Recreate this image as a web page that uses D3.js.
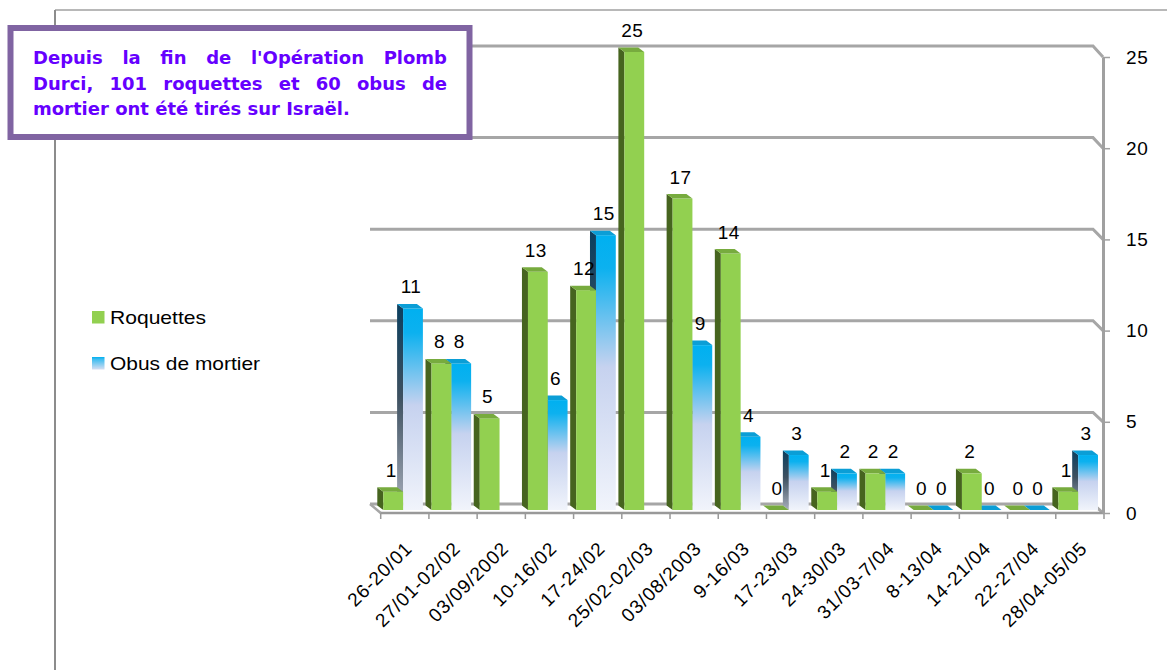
<html>
<head>
<script src="https://d3js.org/d3.v7.min.js"></script>
<style>
body { margin: 0; background: #fff; }
svg text { font-family: "Liberation Sans", Arial, sans-serif; fill: #000; }
.note text { font-family: "DejaVu Sans", Verdana, sans-serif; font-weight: bold; font-size: 18px; fill: #6600ff; }
</style>
</head>
<body>
<svg id="chart"></svg>
<script>
// chart data
var categories = ["26-20/01", "27/01-02/02", "03/09/2002", "10-16/02", "17-24/02", "25/02-02/03",
  "03/08/2003", "9-16/03", "17-23/03", "24-30/03", "31/03-7/04", "8-13/04", "14-21/04", "22-27/04", "28/04-05/05"];
var roquettes = [1, 8, 5, 13, 12, 25, 17, 14, 0, 1, 2, 0, 2, 0, 1];
var obus = [11, 8, null, 6, 15, null, 9, 4, 3, 2, 2, 0, 0, 0, 3];
var yTicks = [0, 5, 10, 15, 20, 25];
var seriesNames = ["Roquettes", "Obus de mortier"];
var noteLines = [
  ["Depuis", "la", "fin", "de", "l'Opération", "Plomb"],
  ["Durci,", "101", "roquettes", "et", "60", "obus", "de"],
  ["mortier", "ont", "été", "tirés", "sur", "Israël."]
];

var W = 1167, H = 670;
var svg = d3.select("#chart").attr("width", W).attr("height", H);
var defs = svg.append("defs");

function grad(id, stops) {
  var g = defs.append("linearGradient").attr("id", id)
    .attr("x1", 0).attr("y1", 0).attr("x2", 0).attr("y2", 1);
  stops.forEach(function(s) { g.append("stop").attr("offset", s[0]).attr("stop-color", s[1]); });
}
grad("blueFront", [[0, "#00b0f0"], [0.12, "#0cb1ef"], [0.48, "#c6d2ef"], [1, "#f1f4fb"]]);
grad("blueSide", [[0, "#0b3f5f"], [0.45, "#3d5060"], [1, "#a7aebb"]]);
grad("blueLegend", [[0, "#00b0f0"], [0.2, "#40bdf0"], [1, "#d6def2"]]);

// outer frame
svg.append("line").attr("x1", 55).attr("y1", 10).attr("x2", W).attr("y2", 10)
  .attr("stroke", "#a0a0a0").attr("stroke-width", 1.5);
svg.append("line").attr("x1", 55).attr("y1", 10).attr("x2", 55).attr("y2", H)
  .attr("stroke", "#8c8c8c").attr("stroke-width", 2);

// scales
var x = d3.scaleBand().domain(categories).range([380.7, 1104]).padding(0);
var y = d3.scaleLinear().domain([0, 25]).range([510, 52]);
var yA = d3.scaleLinear().domain([0, 25]).range([513, 57]);
var back = { dx: -6, dy: -4.5 };
var wallX0 = 370, wallX1 = 1093, axisX = 1103;

// back wall gridlines
svg.append("g").selectAll("path.grid").data(yTicks).enter().append("path")
  .attr("d", function(d) {
    var g = y(d) - 6;
    return "M" + wallX0 + "," + g + "H" + wallX1 + "L" + axisX + "," + yA(d);
  })
  .attr("fill", "none").attr("stroke", "#a6a6a6").attr("stroke-width", 3);

// floor left corner
svg.append("line").attr("x1", wallX0).attr("y1", y(0) - 6).attr("x2", x.range()[0]).attr("y2", yA(0))
  .attr("stroke", "#a6a6a6").attr("stroke-width", 2.5);

// bottom axis
var bounds = categories.map(function(c) { return x(c); }).concat([x.range()[1]]);
var xAxis = svg.append("g");
xAxis.append("line").attr("x1", x.range()[0]).attr("x2", x.range()[1])
  .attr("y1", yA(0)).attr("y2", yA(0)).attr("stroke", "#999").attr("stroke-width", 2.5);
xAxis.selectAll("line.tick").data(bounds).enter().append("line")
  .attr("x1", function(d) { return d; }).attr("x2", function(d) { return d; })
  .attr("y1", yA(0)).attr("y2", yA(0) + 6).attr("stroke", "#999").attr("stroke-width", 1.5);
xAxis.selectAll("text").data(categories).enter().append("text")
  .attr("transform", function(d) {
    return "translate(" + (x(d) + x.bandwidth() / 2 + 4) + "," + 545 + ") rotate(-45)";
  })
  .attr("text-anchor", "end").attr("dominant-baseline", "central")
  .style("font-size", "19px").style("letter-spacing", "0.9px")
  .text(function(d) { return d; });

// right axis
var rAxis = svg.append("g").attr("transform", "translate(" + axisX + ",0)")
  .call(d3.axisRight(yA).tickValues(yTicks).tickSize(7).tickSizeOuter(0).tickPadding(16));
rAxis.select(".domain").attr("stroke", "#a0a0a0").attr("stroke-width", 3);
rAxis.selectAll(".tick line").attr("stroke", "#a0a0a0").attr("stroke-width", 1.5);
rAxis.selectAll(".tick text").style("font-size", "19px").style("letter-spacing", "0.6px")
  .style("font-family", "'Liberation Sans', Arial, sans-serif").attr("fill", "#000");

// 3D bars
var bars = [];
categories.forEach(function(c, i) {
  if (obus[i] !== null) bars.push({ cat: c, v: obus[i], s: 1 });
  if (roquettes[i] !== null) bars.push({ cat: c, v: roquettes[i], s: 0 });
});
var bw = 19.8;
function fx(d) { return x(d.cat) + 2.6 + d.s * bw; }
var colors = [
  { front: "#92d050", side: "#46641f", top: "#77ab3e" },
  { front: "url(#blueFront)", side: "url(#blueSide)", top: "#0b9ed6" }
];

var barG = svg.append("g").selectAll("g.bar").data(bars).enter().append("g").attr("class", "bar");
barG.append("path")
  .attr("d", function(d) {
    var l = fx(d), t = y(d.v), b = y(0);
    return "M" + l + "," + t + "V" + b + "L" + (l + back.dx) + "," + (b + back.dy) +
      "V" + (t + back.dy) + "Z";
  })
  .attr("fill", function(d) { return colors[d.s].side; });
barG.append("rect")
  .attr("x", fx).attr("y", function(d) { return y(d.v); })
  .attr("width", bw).attr("height", function(d) { return y(0) - y(d.v); })
  .attr("fill", function(d) { return colors[d.s].front; });
barG.append("path")
  .attr("d", function(d) {
    var l = fx(d), t = y(d.v);
    return "M" + l + "," + t + "H" + (l + bw) + "L" + (l + bw + back.dx) + "," + (t + back.dy) +
      "H" + (l + back.dx) + "Z";
  })
  .attr("fill", function(d) { return colors[d.s].top; });

// value labels
svg.append("g").selectAll("text").data(bars).enter().append("text")
  .attr("x", function(d) { return fx(d) + bw / 2 - 2; })
  .attr("y", function(d) { return y(d.v) - 15; })
  .attr("text-anchor", "middle")
  .style("font-size", "19px").style("letter-spacing", "0.5px")
  .text(function(d) { return d.v; });

// legend
var leg = svg.append("g").selectAll("g").data(seriesNames).enter().append("g")
  .attr("transform", function(d, i) { return "translate(92," + (311 + i * 46) + ")"; });
leg.append("rect").attr("width", 12.5).attr("height", 12.5)
  .attr("fill", function(d, i) { return i === 0 ? "#92d050" : "url(#blueLegend)"; });
leg.append("text").attr("x", 18).attr("y", 6.5).attr("dominant-baseline", "central")
  .style("font-size", "19px")
  .attr("textLength", function(d, i) { return i === 0 ? 96 : 150; })
  .attr("lengthAdjust", "spacingAndGlyphs")
  .text(function(d) { return d; });

// note box
var note = svg.append("g").attr("class", "note");
note.append("rect").attr("x", 10.5).attr("y", 28).attr("width", 459).attr("height", 109)
  .attr("fill", "#fff").attr("stroke", "#8064a2").attr("stroke-width", 6);
var textLeft = 33, textRight = 447;
noteLines.forEach(function(words, li) {
  var ly = 64 + li * 25.5;
  var nodes = words.map(function(w) {
    return note.append("text").attr("y", ly).text(w);
  });
  var widths = nodes.map(function(n) { return n.node().getComputedTextLength(); });
  var total = d3.sum(widths);
  var last = li === noteLines.length - 1;
  var gap = last ? 6.3 : (textRight - textLeft - total) / (words.length - 1);
  var cx = textLeft;
  nodes.forEach(function(n, k) {
    n.attr("x", cx);
    cx += widths[k] + gap;
  });
});
</script>
</body>
</html>
